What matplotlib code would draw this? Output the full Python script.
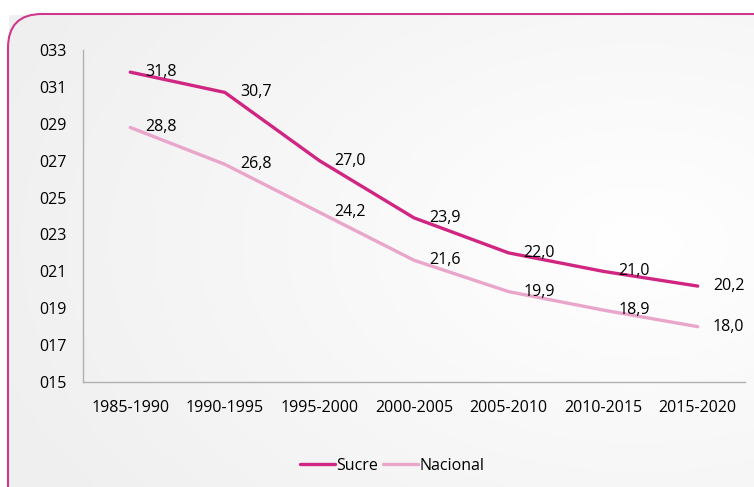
import numpy as np
import matplotlib.pyplot as plt
from matplotlib.patches import FancyBboxPatch

periods = ['1985-1990', '1990-1995', '1995-2000', '2000-2005', '2005-2010', '2010-2015', '2015-2020']
sucre = [31.8, 30.7, 27.0, 23.9, 22.0, 21.0, 20.2]
nacional = [28.8, 26.8, 24.2, 21.6, 19.9, 18.9, 18.0]
yticks = [15, 17, 19, 21, 23, 25, 27, 29, 31, 33]

plt.rcParams['font.family'] = ['Open Sans', 'DejaVu Sans']
fs = 11.5

W, H = 754, 487
fig = plt.figure(figsize=(W / 100, H / 100), dpi=100)

# background gradient, lighter towards the right
bg = fig.add_axes([0, 0, 1, 1])
gx, gy = np.meshgrid(np.linspace(0, 1, 200), np.linspace(0, 1, 200))
shade = 0.94 + 0.06 * np.clip(1 - np.hypot(gx - 0.85, gy - 0.5) / 0.9, 0, 1)
bg.imshow(np.dstack([shade] * 3), extent=[0, 1, 0, 1], aspect='auto', origin='lower')
bg.set_xlim(0, 1)
bg.set_ylim(0, 1)
bg.axis('off')

# white strip outside the border
bg.add_patch(plt.Rectangle((0, 1 - 14 / H), 1, 14 / H, color='white', zorder=1))
bg.add_patch(plt.Rectangle((0, 0), 8 / W, 1, color='white', zorder=1))
frame = FancyBboxPatch((8 / W, -0.2), 1.2, 1.2 - 14 / H,
                       boxstyle='round,pad=0,rounding_size=0.045',
                       mutation_aspect=W / H,
                       facecolor='none', edgecolor='#d0378c', linewidth=1.5, zorder=2)
bg.add_patch(frame)

ax = fig.add_axes([83 / W, (H - 382) / H, (745 - 83) / W, (382 - 50) / H])
ax.patch.set_alpha(0)
x = np.arange(len(periods))
ax.plot(x, sucre, color='#d12582', lw=2.4, solid_capstyle='round', label='Sucre')
ax.plot(x, nacional, color='#eaa5cb', lw=2.4, solid_capstyle='round', label='Nacional')

for xi, v in zip(x, sucre):
    ax.text(xi + 0.16, v, f'{v:.1f}'.replace('.', ','), fontsize=fs, va='center', ha='left')
for xi, v in zip(x, nacional):
    ax.text(xi + 0.16, v, f'{v:.1f}'.replace('.', ','), fontsize=fs, va='center', ha='left')

ax.set_xlim(-0.5, len(periods) - 0.5)
ax.set_ylim(15, 33)
ax.set_yticks(yticks)
ax.set_yticklabels([f'{t:03d}' for t in yticks], fontsize=fs)
ax.set_xticks(x)
ax.set_xticklabels(periods, fontsize=fs)
ax.tick_params(length=0)
ax.tick_params(axis='x', pad=13)
ax.tick_params(axis='y', pad=12)
for s in ['top', 'right']:
    ax.spines[s].set_visible(False)
for s in ['left', 'bottom']:
    ax.spines[s].set_color('#b0b0b0')
    ax.spines[s].set_linewidth(1)

fig.legend(loc='center', bbox_to_anchor=(0.52, (H - 466) / H), ncol=2, frameon=False,
           fontsize=fs, handlelength=2.2, handletextpad=0.1, columnspacing=0.3)

fig.savefig('out.png', dpi=100)
